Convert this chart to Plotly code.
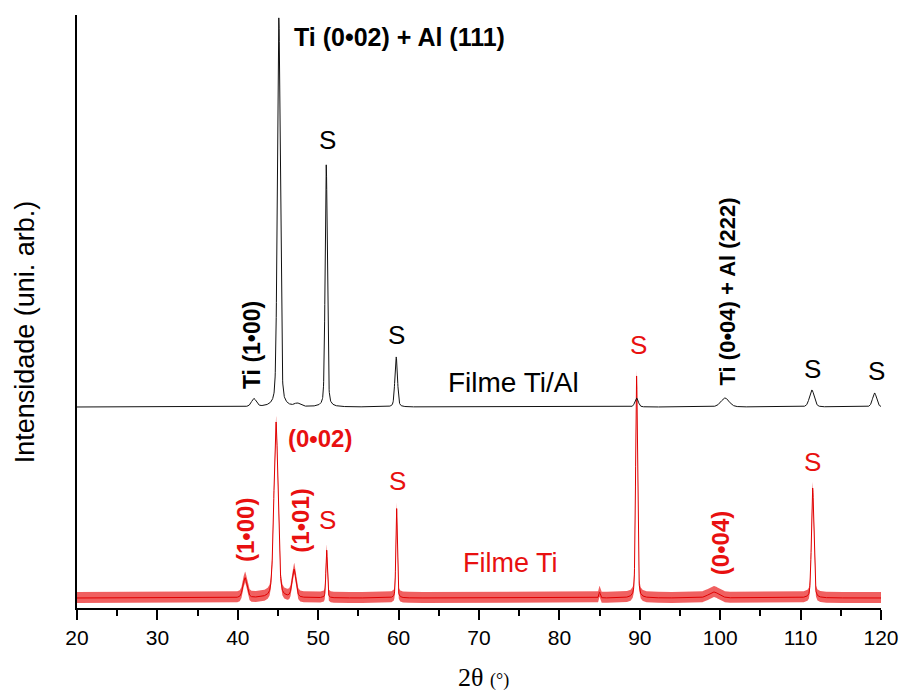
import numpy as np
import plotly.graph_objects as go

# ---- data (intensity in arbitrary units) ----
# Ti/Al film peaks: position (deg), height, FWHM (deg)
tial_pos = [42.0, 45.1, 47.4, 51.0, 59.7, 89.6, 100.6, 111.4, 119.2]
tial_hgt = [8, 389, 3, 242, 50, 9, 9, 17, 14]
tial_fwhm = [0.7, 0.42, 0.8, 0.32, 0.38, 0.5, 1.2, 0.7, 0.6]
tial_base = 201

# Ti film peaks
ti_pos = [40.9, 44.75, 47.0, 51.05, 59.75, 85.0, 89.6, 99.2, 111.5]
ti_hgt = [20, 176, 28, 48, 90, 6, 222, 6, 110]
ti_fwhm = [0.6, 0.6, 0.55, 0.22, 0.22, 0.2, 0.28, 1.5, 0.35]
ti_base = 10
ti_noise_lo = 5   # lower edge of the noise band below the trace
ti_noise_hi = 6   # upper edge of the noise band above the trace

x_ticks = [20, 30, 40, 50, 60, 70, 80, 90, 100, 110, 120]
x_minor = [25, 35, 45, 55, 65, 75, 85, 95, 105, 115]

two_theta = np.arange(20.0, 120.0001, 0.02)


def pattern(pos, hgt, fwhm, base):
    y = np.full_like(two_theta, float(base))
    for p, h, w in zip(pos, hgt, fwhm):
        g = np.exp(-4 * np.log(2) * ((two_theta - p) / w) ** 2)
        lo = 1.0 / (1.0 + 4 * ((two_theta - p) / w) ** 2)
        y += h * (0.7 * g + 0.3 * lo)
    return y


y_tial = pattern(tial_pos, tial_hgt, tial_fwhm, tial_base)
y_ti = pattern(ti_pos, ti_hgt, ti_fwhm, ti_base)

fig = go.Figure()
fig.add_trace(go.Scatter(x=two_theta, y=y_ti - ti_noise_lo, mode="lines",
                         line=dict(color="rgba(230,0,0,0)", width=0),
                         hoverinfo="skip", showlegend=False))
fig.add_trace(go.Scatter(x=two_theta, y=y_ti + ti_noise_hi, mode="lines",
                         line=dict(color="rgba(230,0,0,0)", width=0),
                         fill="tonexty", fillcolor="rgba(232,10,10,0.65)",
                         hoverinfo="skip", showlegend=False))
fig.add_trace(go.Scatter(x=two_theta, y=y_ti, mode="lines",
                         line=dict(color="#e00000", width=1),
                         name="Filme Ti", showlegend=False))
fig.add_trace(go.Scatter(x=two_theta, y=y_tial, mode="lines",
                         line=dict(color="#111111", width=1),
                         name="Filme Ti/Al", showlegend=False))

BL = "black"
RD = "#e81010"
ann = []


def add(x, y, text, color, size, bold=False, angle=0, xanchor="center"):
    t = f"<b>{text}</b>" if bold else text
    ann.append(dict(x=x, y=y, xref="x", yref="y", text=t, showarrow=False,
                    textangle=angle, xanchor=xanchor, yanchor="middle",
                    font=dict(family="Liberation Sans", size=size, color=color)))


# black labels
add(46.75, 571, "Ti (0•02) + Al (111)", BL, 25, bold=True, xanchor="left")
add(51.2, 468, "S", BL, 26)
add(59.8, 273, "S", BL, 26)
add(41.77, 263, "Ti (1•00)", BL, 23, bold=True, angle=-90)
add(74.35, 226, "Filme Ti/Al", BL, 28)
add(100.9, 317, "Ti (0•04) + Al (222)", BL, 22, bold=True, angle=-90)
add(111.5, 239, "S", BL, 26)
add(119.4, 237, "S", BL, 26)
# red labels
add(89.8, 263, "S", RD, 26)
add(46.0, 170, "(0•02)", RD, 24, bold=True, xanchor="left")
add(40.9, 78, "(1•00)", RD, 24, bold=True, angle=-90)
add(47.7, 87, "(1•01)", RD, 24, bold=True, angle=-90)
add(51.2, 88, "S", RD, 26)
add(59.9, 127, "S", RD, 26)
add(73.9, 45, "Filme Ti", RD, 27)
add(100.0, 65, "(0•04)", RD, 24, bold=True, angle=-90)
add(111.5, 146, "S", RD, 26)

# axis titles
ann.append(dict(x=0.505, y=-0.118, xref="paper", yref="paper", yanchor="middle",
                text="2θ <span style='font-size:18px'>(°)</span>", showarrow=False,
                font=dict(family="Liberation Serif", size=26, color="black")))
ann.append(dict(x=-0.0646, y=0.465, xref="paper", yref="paper", textangle=-90,
                xanchor="center", yanchor="middle",
                text="Intensidade (uni. arb.)", showarrow=False,
                font=dict(family="Liberation Sans", size=27, color="black")))

fig.update_layout(
    width=902, height=698,
    margin=dict(l=77, r=21, t=15, b=90),
    paper_bgcolor="white", plot_bgcolor="white",
    annotations=ann,
    xaxis=dict(range=[20, 120], tickvals=x_ticks, ticks="outside", ticklen=10,
               tickwidth=1.5, tickcolor="black", showline=True, linecolor="black",
               linewidth=1.5, showgrid=False, zeroline=False, automargin=False,
               tickfont=dict(family="Liberation Sans", size=21, color="black"),
               minor=dict(tickvals=x_minor, ticks="outside", ticklen=6,
                          tickwidth=1.5, tickcolor="black")),
    yaxis=dict(range=[0, 593], showline=True, linecolor="black", linewidth=1.5,
               showticklabels=False, ticks="", showgrid=False, zeroline=False,
               automargin=False),
)

fig.write_html("out.html", config={"displayModeBar": False},
               post_script="document.body.style.margin='0';document.body.style.overflow='hidden';")
